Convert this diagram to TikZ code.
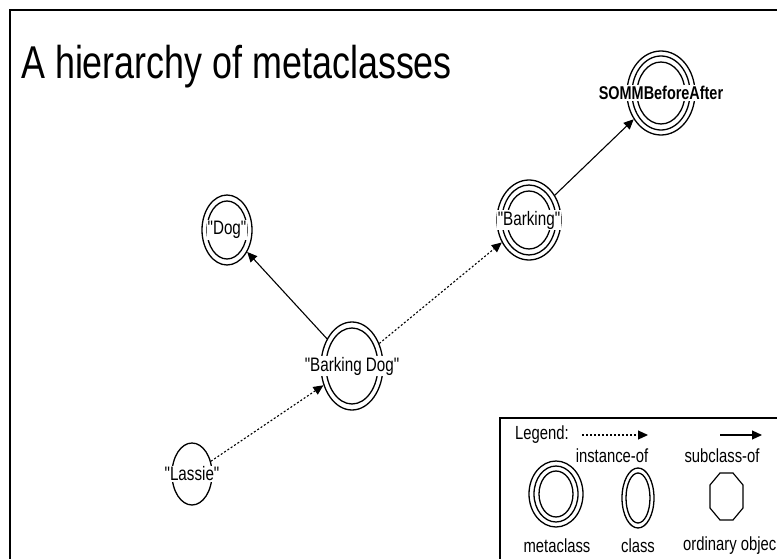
\documentclass[tikz,border=0pt]{standalone}
\usepackage{fontspec}
\setmainfont{Liberation Sans}
\newfontfamily\nf[FakeStretch=0.78]{Liberation Sans}
\usetikzlibrary{arrows.meta,shapes.geometric}
\begin{document}
\begin{tikzpicture}[x=1pt,y=-1pt,
  ring/.style={ellipse, draw, line width=1.3pt, inner sep=0pt},
  ringline/.style={line width=1.3pt},
  txt/.style={font=\fontsize{19.5}{21}\selectfont\nf, inner sep=0pt},
  ltxt/.style={font=\fontsize{19}{21}\selectfont\nf, inner sep=0pt},
  inst/.style={line width=1.1pt, dash pattern=on 2pt off 2pt, -{Triangle[length=10pt,width=9pt]}},
  sub/.style={line width=1.1pt, -{Triangle[length=10pt,width=9pt]}},
  frame/.style={line width=2pt}]
\useasboundingbox (0,0) rectangle (777,559);
% frame
\draw[frame] (10,559) -- (10,10) -- (777,10);
% title
\node[anchor=base west, font=\fontsize{46}{50}\selectfont\nf, inner sep=0pt] (title) at (21,79) {A hierarchy of metaclasses};

% SOMMBeforeAfter (metaclass)
\node[ring, minimum width=68pt, minimum height=84pt] (somm) at (661,93) {};
\draw[ringline] (somm.center) ellipse [x radius=29pt, y radius=37pt];
\draw[ringline] (somm.center) ellipse [x radius=24pt, y radius=31pt];
\node[txt, font=\fontsize{18.5}{20}\selectfont\nf\bfseries, fill=white, inner sep=1pt] (sommT) at (somm) {SOMMBeforeAfter};

% Barking (metaclass)
\node[ring, minimum width=64pt, minimum height=80pt] (barking) at (529,220) {};
\draw[ringline] (barking.center) ellipse [x radius=27pt, y radius=35pt];
\draw[ringline] (barking.center) ellipse [x radius=22pt, y radius=29pt];
\node[txt, fill=white, inner sep=1pt] (barkingT) at (barking) {"Barking"};

% Dog (class)
\node[ring, minimum width=50pt, minimum height=70pt] (dog) at (227,230) {};
\draw[ringline] (dog.center) ellipse [x radius=20pt, y radius=29pt];
\node[txt, fill=white, inner sep=1pt] (dogT) at (dog) {"Dog"};

% Barking Dog (class)
\node[ring, minimum width=62pt, minimum height=88pt] (bdog) at (352,366) {};
\draw[ringline] (bdog.center) ellipse [x radius=26pt, y radius=38pt];
\node[txt, fill=white, inner sep=1pt] (bdogT) at (bdog) {"Barking Dog"};

% Lassie (ordinary object)
\node[ring, minimum width=40pt, minimum height=62pt] (lassie) at (192,474) {};
\node[txt, fill=white, inner sep=1pt] (lassieT) at (lassie) {"Lassie"};

% connectors
\draw[inst] (lassie) -- (bdog);
\draw[sub] (bdog) -- (dog);
\draw[inst] (bdog) -- (barking);
\draw[sub] (barking) -- (somm);

% legend
\draw[line width=1.5pt] (500,559) -- (500,418) -- (777,418);
\node[ltxt, anchor=west] (legT) at (515,435) {Legend:};
\coordinate (li1) at (582,435);
\coordinate (li2) at (648,435);
\draw[inst] (li1) -- (li2);
\coordinate (ls1) at (720,435);
\coordinate (ls2) at (762,435);
\draw[sub] (ls1) -- (ls2);
\node[ltxt] (instT) at (612,456) {instance-of};
\node[ltxt] (subT) at (722,456) {subclass-of};

\node[ring, minimum width=54pt, minimum height=66pt] (lmeta) at (556,494) {};
\draw[ringline] (lmeta.center) ellipse [x radius=22pt, y radius=28pt];
\draw[ringline] (lmeta.center) ellipse [x radius=17pt, y radius=23pt];
\node[ring, minimum width=32pt, minimum height=60pt] (lclass) at (638,498) {};
\draw[ringline] (lclass.center) ellipse [x radius=12pt, y radius=25pt];
\draw[line width=1.2pt] (720,473) -- (733,473) -- (743,485) -- (743,508) -- (733,520) -- (720,520) -- (710,508) -- (710,485) -- cycle;

\node[ltxt] (metaT) at (557,546) {metaclass};
\node[ltxt] (classT) at (638,546) {class};
\node[ltxt, anchor=west] (ordT) at (683,546) {ordinary objec};
\end{tikzpicture}
\end{document}
